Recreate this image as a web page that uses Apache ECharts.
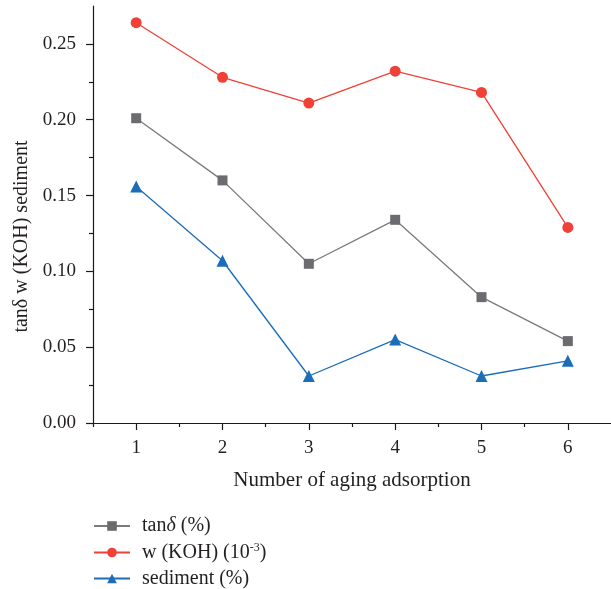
<!DOCTYPE html>
<html><head><meta charset="utf-8">
<script src="https://cdn.jsdelivr.net/npm/echarts@6/dist/echarts.min.js"></script>
<style>html,body{margin:0;padding:0;background:#fff}#c{width:611px;height:589px}</style>
</head><body><div id="c"></div>
<script>
const xValues = [1, 2, 3, 4, 5, 6];
const tanDelta = [0.201, 0.160, 0.105, 0.134, 0.083, 0.054];
const wKOH = [0.264, 0.228, 0.211, 0.232, 0.218, 0.129];
const sediment = [0.156, 0.107, 0.031, 0.055, 0.031, 0.041];
const yMajorTicks = [0, 0.05, 0.10, 0.15, 0.20, 0.25];
const yMinorTicks = [0.025, 0.075, 0.125, 0.175, 0.225];
const xMinorTicks = [0.5, 1.5, 2.5, 3.5, 4.5, 5.5];
const seriesNames = ['tanδ (%)', 'w (KOH) (10-3)', 'sediment (%)'];
const legendLabels = {
  'tanδ (%)': 'tan{i|δ} (%)',
  'w (KOH) (10-3)': 'w (KOH) (10{sup|-3})',
  'sediment (%)': 'sediment (%)'
};
const FONT = 'Liberation Serif';
const pts = arr => xValues.map((x, i) => [x, arr[i]]);
const chart = echarts.init(document.getElementById('c'));
const axisLineStyle = {color: '#1a1a1a', width: 1.2};
chart.setOption({
  animation: false,
  grid: {left: 93, top: 6, right: 0, bottom: 166},
  xAxis: [{
    type: 'value', min: 0.5, max: 6.5,
    name: 'Number of aging adsorption', nameLocation: 'middle', nameGap: 47,
    nameTextStyle: {fontFamily: FONT, fontSize: 21, color: '#231f20'},
    axisLine: {lineStyle: axisLineStyle},
    axisTick: {show: true, length: 7, customValues: xValues, lineStyle: axisLineStyle},
    axisLabel: {customValues: xValues, fontFamily: FONT, fontSize: 19, color: '#231f20', margin: 16},
    splitLine: {show: false}
  }, {
    type: 'value', min: 0.5, max: 6.5, position: 'bottom',
    axisLine: {show: false},
    axisTick: {show: true, length: 4, customValues: xMinorTicks, lineStyle: axisLineStyle},
    axisLabel: {show: false}, splitLine: {show: false}
  }],
  yAxis: [{
    type: 'value', min: 0, max: 0.275,
    name: 'tanδ w (KOH) sediment', nameLocation: 'middle', nameGap: 60, nameRotate: 90,
    nameTextStyle: {fontFamily: FONT, fontSize: 20, color: '#231f20', padding: [0, 44, 0, 0]},
    axisLine: {show: true, lineStyle: axisLineStyle},
    axisTick: {show: true, length: 7, customValues: yMajorTicks, lineStyle: axisLineStyle},
    axisLabel: {customValues: yMajorTicks, formatter: v => v.toFixed(2), fontFamily: FONT, fontSize: 19, color: '#231f20', margin: 17},
    splitLine: {show: false}
  }, {
    type: 'value', min: 0, max: 0.275, position: 'left',
    axisLine: {show: false},
    axisTick: {show: true, length: 4, customValues: yMinorTicks, lineStyle: axisLineStyle},
    axisLabel: {show: false}, splitLine: {show: false}
  }],
  legend: {
    orient: 'vertical', left: 88, top: 511, height: 120, width: 400, itemGap: 6,
    itemWidth: 36, itemHeight: 12,
    data: seriesNames,
    formatter: n => legendLabels[n],
    textStyle: {fontFamily: FONT, fontSize: 20, color: '#231f20', padding: [0, 0, 0, 7],
      rich: {i: {fontFamily: FONT, fontSize: 20, fontStyle: 'italic', color: '#231f20'},
             sup: {fontFamily: FONT, fontSize: 12, color: '#231f20', verticalAlign: 'top', padding: [0, 0, 9, 0]}}}
  },
  series: [
    {name: seriesNames[0], type: 'line', data: pts(tanDelta), symbol: 'rect', symbolSize: 10,
     lineStyle: {color: '#7a7a7a', width: 1.3}, itemStyle: {color: '#6b6b70'}},
    {name: seriesNames[1], type: 'line', data: pts(wKOH), symbol: 'circle', symbolSize: 11,
     lineStyle: {color: '#ef4136', width: 1.3}, itemStyle: {color: '#ef4136'}},
    {name: seriesNames[2], type: 'line', data: pts(sediment), symbol: 'triangle', symbolSize: 12,
     lineStyle: {color: '#1b6cb9', width: 1.3}, itemStyle: {color: '#1b6cb9'}}
  ]
});
</script></body></html>
